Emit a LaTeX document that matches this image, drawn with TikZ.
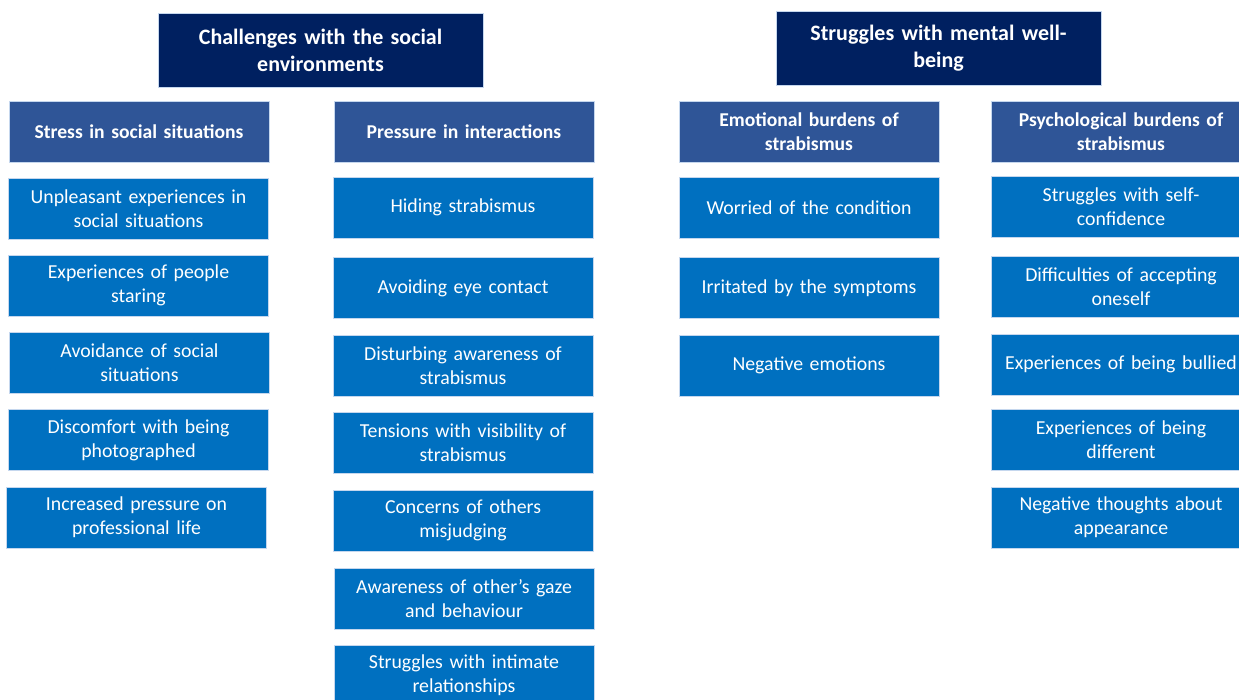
\documentclass[tikz,border=0pt]{standalone}
\usepackage{fontspec}
\setmainfont{Carlito}
\definecolor{navy}{HTML}{002060}
\definecolor{headblue}{HTML}{2F5597}
\definecolor{itemblue}{HTML}{0070C0}
\definecolor{edgeblue}{HTML}{C5D7EE}
\begin{document}
\begin{tikzpicture}[x=1pt,y=-1pt,
  box/.style={draw=edgeblue, line width=0.8pt, text=white, align=center,
    inner sep=0pt, font=\fontsize{19.8}{24}\selectfont},
  titlebox/.style={box, fill=navy, minimum width=325pt, minimum height=74pt,
    text width=310pt, font=\bfseries\fontsize{22}{27}\selectfont},
  headbox/.style={box, fill=headblue, minimum width=260pt, minimum height=61pt,
    text width=256pt, font=\bfseries\fontsize{19.6}{24}\selectfont},
  itembox/.style={box, fill=itemblue, minimum width=260pt, minimum height=61pt,
    text width=256pt}]
\useasboundingbox (0,0) rectangle (1239,700);
\begin{scope}
\clip (0,0) rectangle (1239,700);
% top-level themes
\node[titlebox] (t1) at (320.5,50) {Challenges with the social\\environments};
\node[titlebox] (t2) at (938.5,48) {Struggles with mental well-\\being};
% sub-themes
\node[headbox] (h1) at (139,131.5) {Stress in social situations};
\node[headbox] (h2) at (464,131.5) {Pressure in interactions};
\node[headbox] (h3) at (809,131.5) {Emotional burdens of\\strabismus};
\node[headbox] (h4) at (1121,131.5) {Psychological burdens of\\strabismus};
% stress in social situations
\node[itembox] (a1) at (138.5,208.5) {Unpleasant experiences in\\social situations};
\node[itembox] (a2) at (138.5,285.5) {Experiences of people\\staring};
\node[itembox] (a3) at (139.5,362.5) {Avoidance of social\\situations};
\node[itembox] (a4) at (138.5,440) {Discomfort with being\\photographed};
\node[itembox] (a5) at (136.5,517.5) {Increased pressure on\\professional life};
% pressure in interactions
\node[itembox] (b1) at (463,207.5) {Hiding strabismus};
\node[itembox] (b2) at (463,288) {Avoiding eye contact};
\node[itembox] (b3) at (463,365.5) {Disturbing awareness of\\strabismus};
\node[itembox] (b4) at (463,443) {Tensions with visibility of\\strabismus};
\node[itembox] (b5) at (463,520.5) {Concerns of others\\misjudging};
\node[itembox] (b6) at (464,598.5) {Awareness of other’s gaze\\and behaviour};
\node[itembox] (b7) at (464,675.5) {Struggles with intimate\\relationships};
% emotional burdens
\node[itembox] (c1) at (809,207.5) {Worried of the condition};
\node[itembox] (c2) at (809,288) {Irritated by the symptoms};
\node[itembox] (c3) at (809,365.5) {Negative emotions};
% psychological burdens
\node[itembox] (d1) at (1121,206.5) {Struggles with self-\\confidence};
\node[itembox] (d2) at (1121,286.5) {Difficulties of accepting\\oneself};
\node[itembox] (d3) at (1121,364.5) {Experiences of being bullied};
\node[itembox] (d4) at (1121,440) {Experiences of being\\different};
\node[itembox] (d5) at (1121,517.5) {Negative thoughts about\\appearance};
\end{scope}
\end{tikzpicture}
\end{document}
